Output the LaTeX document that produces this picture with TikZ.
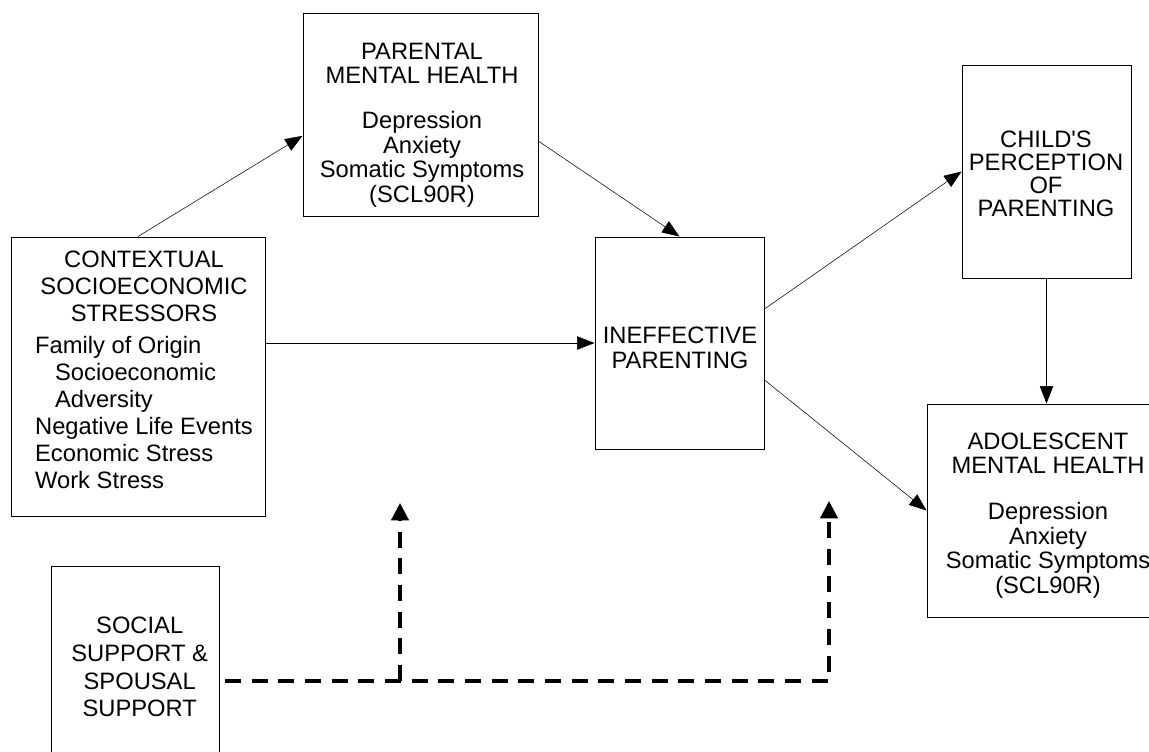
\documentclass[tikz,border=0pt]{standalone}
\usepackage{fontspec}
\setmainfont{Liberation Sans}
\usetikzlibrary{arrows.meta}

\begin{document}
\begin{tikzpicture}[x=.75pt, y=-.75pt, box/.style={draw, line width=.75pt, inner sep=0pt}, txt/.style={inner sep=0pt, align=center, font=\fontsize{17.8pt}{18.4pt}\selectfont}, >={Triangle[length=13pt, width=10pt]}, moderate/.style={line width=2.4pt, dash pattern=on 12pt off 8pt, >={Triangle[length=13pt, width=13pt]}}]
\useasboundingbox (0,0) rectangle (1149,751);
% boxes
\node[box, minimum width=190.5pt, minimum height=209.25pt] (ctx) at (138,376.5) {};
\node[box, minimum width=176.25pt, minimum height=152.25pt] (par) at (420.5,114.5) {};
\node[box, minimum width=126.75pt, minimum height=159pt] (ineff) at (679.5,343) {};
\node[box, minimum width=126.75pt, minimum height=159.75pt] (child) at (1046.5,171.5) {};
\node[box, minimum width=181.5pt, minimum height=159.75pt] (adol) at (1048,510.5) {};
\node[box, minimum width=126pt, minimum height=153pt] (soc) at (135,668) {};
% texts
\node[txt, font=\fontsize{17.8pt}{20.25pt}\selectfont] (ctxtext) at (144,372.5) {\begin{tabular}{@{}l@{}}
\multicolumn{1}{@{}c@{}}{CONTEXTUAL}\\ \multicolumn{1}{@{}c@{}}{SOCIOECONOMIC}\\ \multicolumn{1}{@{}c@{}}{STRESSORS}\\[3.75pt]
Family of Origin\\ \hspace*{15pt}Socioeconomic\\ \hspace*{15pt}Adversity\\
Negative Life Events\\ Economic Stress\\ Work Stress
\end{tabular}};
\node[txt] (partext) at (422,125) {PARENTAL\\MENTAL HEALTH\\[15.4pt]Depression\\Anxiety\\Somatic Symptoms\\(SCL90R)};
\node[txt] (inefftext) at (680,348) {INEFFECTIVE\\PARENTING};
\node[txt, font=\fontsize{17.8pt}{17.1pt}\selectfont] (childtext) at (1046,174) {CHILD\textquotesingle S\\PERCEPTION\\OF\\PARENTING};
\node[txt] (adoltext) at (1048,515.5) {ADOLESCENT\\MENTAL HEALTH\\[16pt]Depression\\Anxiety\\Somatic Symptoms\\(SCL90R)};
\node[txt, font=\fontsize{17.8pt}{20.75pt}\selectfont] (soctext) at (139.7,667) {SOCIAL\\SUPPORT \&\\SPOUSAL\\SUPPORT};
% paths
\draw[->] (ctx.north) -- ([yshift=-16pt]par.west);
\draw[->] ([yshift=-20pt]par.east) -- (ineff.north);
\draw[->] (ctx.east |- ineff.west) -- (ineff.west);
\draw[->] ([yshift=25.5pt]ineff.east) -- (child.west);
\draw[->] ([yshift=-27.75pt]ineff.east) -- (adol.west);
\draw[->] (child.south) -- (child.south |- adol.north);
% buffering
\coordinate (s0) at (225,681);
\coordinate (j1) at (400,681);
\coordinate (j2) at (829,681);
\coordinate (m1) at (400,503);
\coordinate (m2) at (829,501);
\draw[moderate, ->] (s0) -- (j2) -- (m2);
\draw[moderate, ->] (j1) -- (m1);
\end{tikzpicture}
\end{document}
